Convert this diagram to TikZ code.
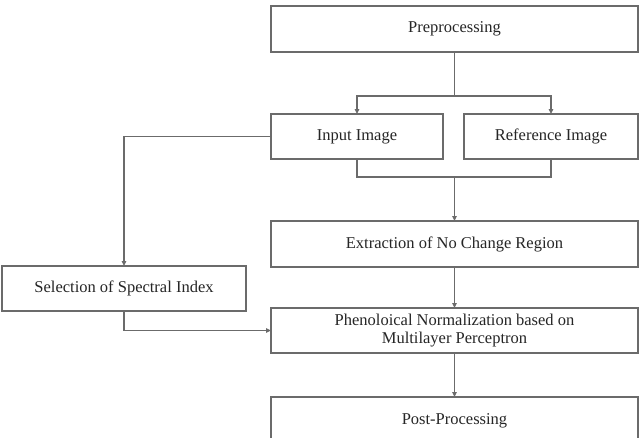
\documentclass[tikz,border=0pt]{standalone}
\usepackage{fontspec}
\setmainfont{Liberation Serif}
\usetikzlibrary{arrows.meta, positioning}

\begin{document}
\begin{tikzpicture}[
    x=1pt, y=1pt,
    >={Triangle[length=5pt, width=4.5pt]},
    box/.style={rectangle, draw=black!58, fill=white, line width=1.4pt, inner sep=0pt, outer sep=0pt,
        minimum height=45pt, align=center, text=black!85, font=\fontsize{16.5}{18.5}\selectfont},
    widebox/.style={box, minimum width=367pt},
    line/.style={draw=black!58, line width=1.4pt},
    arrow/.style={line, ->}
]
    \useasboundingbox (0,0) rectangle (643,-437);
    \clip (0,0) rectangle (643,-437);

    % Main column
    \node [widebox, minimum height=46pt] (pre) at (454.5,-29) {Preprocessing};
    \node [box, minimum width=172pt, below=62pt of pre.south west, anchor=north west] (input) {Input Image};
    \node [box, minimum width=174pt, below=62pt of pre.south east, anchor=north east] (ref) {Reference Image};
    \node [widebox, minimum height=46pt, below=62pt of input.south west, anchor=north west] (extract) {Extraction of No Change Region};
    \node [widebox, below=41pt of extract] (pheno) {Phenoloical Normalization based on\\Multilayer Perceptron};
    \node [widebox, minimum height=48pt, below=44pt of pheno] (post) {Post-Processing};

    % Left column
    \node [box, minimum width=244pt, anchor=north west] (select) at (2,-266) {Selection of Spectral Index};

    % Connectors
    \draw [arrow] (pre.south) -- ++(0,-44) coordinate (split) -| (input.north);
    \draw [arrow] (split) -| (ref.north);
    \draw [line] (input.south) -- ++(0,-18) coordinate (join) -| (ref.south);
    \draw [arrow] (join -| extract.north) -- (extract.north);
    \draw [arrow] (extract) -- (pheno);
    \draw [arrow] (pheno) -- (post);
    \draw [arrow] (input.west) -| (select.north);
    \draw [arrow] (select.south) |- (pheno.west);

\end{tikzpicture}
\end{document}
